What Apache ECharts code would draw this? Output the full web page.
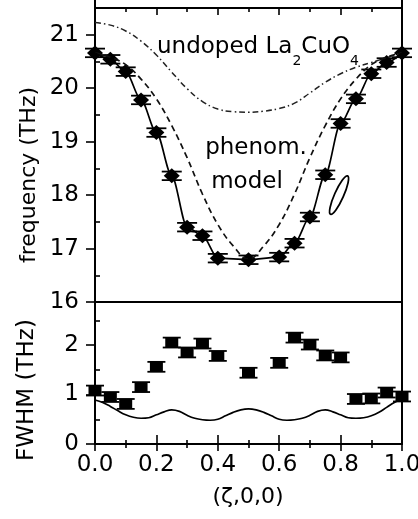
<!DOCTYPE html>
<html><head><meta charset="utf-8">
<script src="https://cdn.jsdelivr.net/npm/echarts@6/dist/echarts.min.js"></script>
<style>html,body{margin:0;padding:0;background:#fff}#c{width:418px;height:519px}</style>
</head><body><div id="c"></div>
<script>
// ---- data ----
const zeta = [0, 0.05, 0.1, 0.15, 0.2, 0.25, 0.3, 0.35, 0.4, 0.5, 0.6, 0.65, 0.7, 0.75, 0.8, 0.85, 0.9, 0.95, 1.0];
const freq = [20.66, 20.54, 20.31, 19.78, 19.17, 18.36, 17.40, 17.24, 16.82, 16.79, 16.84, 17.10, 17.59, 18.38, 19.34, 19.80, 20.27, 20.48, 20.66];
const freqErr = [0.08, 0.08, 0.08, 0.08, 0.08, 0.08, 0.08, 0.08, 0.08, 0.08, 0.08, 0.08, 0.08, 0.08, 0.08, 0.08, 0.08, 0.08, 0.08];
const fwhm = [1.08, 0.95, 0.81, 1.15, 1.56, 2.05, 1.85, 2.03, 1.78, 1.44, 1.64, 2.15, 2.01, 1.79, 1.75, 0.91, 0.92, 1.04, 0.96];
const fwhmErr = [0.1, 0.1, 0.1, 0.1, 0.1, 0.1, 0.1, 0.1, 0.1, 0.1, 0.1, 0.1, 0.1, 0.1, 0.1, 0.1, 0.1, 0.1, 0.1];

const curveZeta = [0, 0.05, 0.1, 0.15, 0.2, 0.25, 0.3, 0.35, 0.4, 0.45, 0.5, 0.55, 0.6, 0.65, 0.7, 0.75, 0.8, 0.85, 0.9, 0.95, 1.0];
const undoped = [21.23, 21.18, 21.07, 20.88, 20.62, 20.30, 19.99, 19.75, 19.61, 19.56, 19.55, 19.57, 19.62, 19.72, 19.91, 20.11, 20.27, 20.39, 20.48, 20.57, 20.66];
const phenom = [20.66, 20.58, 20.44, 20.17, 19.80, 19.30, 18.70, 18.02, 17.45, 17.05, 16.80, 17.05, 17.45, 18.02, 18.70, 19.30, 19.80, 20.17, 20.44, 20.58, 20.66];

const modelZeta = [0, 0.025, 0.05, 0.075, 0.1, 0.125, 0.15, 0.175, 0.2, 0.225, 0.25, 0.275, 0.3, 0.325, 0.35, 0.375, 0.4, 0.425, 0.45, 0.475, 0.5, 0.525, 0.55, 0.575, 0.6, 0.625, 0.65, 0.675, 0.7, 0.725, 0.75, 0.775, 0.8, 0.825, 0.85, 0.875, 0.9, 0.925, 0.95, 0.975, 1.0];
const fwhmModel = [0.89, 0.84, 0.76, 0.67, 0.59, 0.54, 0.52, 0.53, 0.59, 0.65, 0.69, 0.66, 0.58, 0.52, 0.49, 0.48, 0.50, 0.57, 0.64, 0.69, 0.71, 0.69, 0.64, 0.57, 0.50, 0.48, 0.49, 0.52, 0.58, 0.66, 0.69, 0.65, 0.59, 0.53, 0.52, 0.53, 0.57, 0.64, 0.74, 0.84, 0.91];

const freqTicks = [16, 17, 18, 19, 20, 21];
const freqMinorTicks = [16.5, 17.5, 18.5, 19.5, 20.5];
const fwhmTicks = [0, 1, 2];
const fwhmMinorTicks = [0.5, 1.5, 2.5];
const ellipseAt = [0.795, 18.0];

// ---- chart ----
const FONT = '"DejaVu Sans", "Liberation Sans", Arial, sans-serif';
const chart = echarts.init(document.getElementById('c'), null, {renderer: 'canvas'});

function errRender(capW) {
  return function (params, api) {
    const x = api.value(0);
    const lo = api.coord([x, api.value(1)]);
    const hi = api.coord([x, api.value(2)]);
    const st = {stroke: '#000', lineWidth: 1.8};
    const h = capW / 2;
    return {type: 'group', children: [
      {type: 'line', shape: {x1: lo[0], y1: lo[1], x2: hi[0], y2: hi[1]}, style: st},
      {type: 'line', shape: {x1: lo[0] - h, y1: lo[1], x2: lo[0] + h, y2: lo[1]}, style: st},
      {type: 'line', shape: {x1: hi[0] - h, y1: hi[1], x2: hi[0] + h, y2: hi[1]}, style: st}
    ]};
  };
}

const xBase = {type: 'value', min: 0, max: 1, interval: 0.2, splitLine: {show: false},
  axisLine: {show: false}};

const option = {
  animation: false,
  backgroundColor: '#fff',
  grid: [
    {left: 95, top: 8, width: 307, height: 294, show: true, borderColor: '#000', borderWidth: 2, backgroundColor: 'transparent', outerBoundsMode: 'none', containLabel: false},
    {left: 95, top: 302, width: 307, height: 142, show: true, borderColor: '#000', borderWidth: 2, backgroundColor: 'transparent', outerBoundsMode: 'none', containLabel: false}
  ],
  xAxis: [
    Object.assign({}, xBase, {gridIndex: 0, position: 'bottom', axisTick: {show: false}, axisLabel: {show: false}}),
    Object.assign({}, xBase, {gridIndex: 0, position: 'top', axisTick: {show: true, inside: true, length: 7, lineStyle: {color: '#000', width: 1.6}},
      minorTick: {show: true, splitNumber: 2, length: 4, lineStyle: {color: '#000', width: 1.6}}, axisLabel: {show: false}}),
    Object.assign({}, xBase, {gridIndex: 1, position: 'bottom', axisTick: {show: true, inside: true, length: 9, lineStyle: {color: '#000', width: 1.6}},
      minorTick: {show: true, splitNumber: 2, length: 4, lineStyle: {color: '#000', width: 1.6}},
      axisLabel: {show: true, margin: 10, color: '#000', fontSize: 23, fontFamily: FONT, formatter: v => v.toFixed(1)}}),
    Object.assign({}, xBase, {gridIndex: 1, position: 'top', axisTick: {show: true, inside: true, length: 7, lineStyle: {color: '#000', width: 1.6}},
      minorTick: {show: true, splitNumber: 2, length: 4, lineStyle: {color: '#000', width: 1.6}}, axisLabel: {show: false}})
  ],
  yAxis: [
    {type: 'value', gridIndex: 0, min: 16, max: 21.5, splitLine: {show: false},
      axisLine: {show: true, lineStyle: {color: '#000', width: 2}},
      axisTick: {show: true, inside: false, length: 9, customValues: freqTicks, lineStyle: {color: '#000', width: 1.6}},
      axisLabel: {show: true, customValues: freqTicks, margin: 16, color: '#000', fontSize: 23, fontFamily: FONT}},
    {type: 'value', gridIndex: 0, min: 16, max: 21.5, splitLine: {show: false}, axisLine: {show: false},
      axisTick: {show: true, inside: false, length: 5, customValues: freqMinorTicks, lineStyle: {color: '#000', width: 1.6}},
      axisLabel: {show: false}},
    {type: 'value', gridIndex: 1, min: 0, max: 2.87, splitLine: {show: false},
      axisLine: {show: true, lineStyle: {color: '#000', width: 2}},
      axisTick: {show: true, inside: false, length: 9, customValues: fwhmTicks, lineStyle: {color: '#000', width: 1.6}},
      axisLabel: {show: true, customValues: fwhmTicks, margin: 16, color: '#000', fontSize: 23, fontFamily: FONT}},
    {type: 'value', gridIndex: 1, min: 0, max: 2.87, splitLine: {show: false}, axisLine: {show: false},
      axisTick: {show: true, inside: false, length: 5, customValues: fwhmMinorTicks, lineStyle: {color: '#000', width: 1.6}},
      axisLabel: {show: false}}
  ],
  series: [
    {type: 'line', xAxisIndex: 0, yAxisIndex: 0, data: curveZeta.map((z, i) => [z, undoped[i]]), smooth: 0.4,
      symbol: 'none', lineStyle: {color: '#222', width: 1.5, type: [6, 3, 1.5, 3]}},
    {type: 'line', xAxisIndex: 0, yAxisIndex: 0, data: curveZeta.map((z, i) => [z, phenom[i]]), smooth: 0.4,
      symbol: 'none', lineStyle: {color: '#111', width: 1.7, type: [6, 4]}},
    {type: 'line', xAxisIndex: 0, yAxisIndex: 0, data: zeta.map((z, i) => [z, freq[i]]), smooth: 0.3, smoothMonotone: 'x',
      symbol: 'none', lineStyle: {color: '#000', width: 1.7}},
    {type: 'custom', xAxisIndex: 0, yAxisIndex: 0, renderItem: errRender(20), encode: {x: 0, y: [1, 2]},
      data: zeta.map((z, i) => [z, freq[i] - freqErr[i], freq[i] + freqErr[i]])},
    {type: 'scatter', xAxisIndex: 0, yAxisIndex: 0, data: zeta.map((z, i) => [z, freq[i]]), symbol: 'diamond',
      symbolSize: [16, 15], itemStyle: {color: '#000', opacity: 1}},
    {type: 'line', xAxisIndex: 2, yAxisIndex: 2, data: modelZeta.map((z, i) => [z, fwhmModel[i]]), smooth: 0.4,
      symbol: 'none', lineStyle: {color: '#000', width: 1.7}},
    {type: 'custom', xAxisIndex: 2, yAxisIndex: 2, renderItem: errRender(18), encode: {x: 0, y: [1, 2]},
      data: zeta.map((z, i) => [z, fwhm[i] - fwhmErr[i], fwhm[i] + fwhmErr[i]])},
    {type: 'scatter', xAxisIndex: 2, yAxisIndex: 2, data: zeta.map((z, i) => [z, fwhm[i]]), symbol: 'rect',
      symbolSize: [13, 10], itemStyle: {color: '#000', opacity: 1}}
  ]
};
chart.setOption(option);

const ep = chart.convertToPixel({xAxisIndex: 0, yAxisIndex: 0}, ellipseAt);
const txt = {fill: '#000', fontFamily: FONT};
chart.setOption({
  graphic: [
    {type: 'line', shape: {x1: 95, y1: 0, x2: 95, y2: 8}, style: {stroke: '#000', lineWidth: 2}},
    {type: 'line', shape: {x1: 402, y1: 0, x2: 402, y2: 8}, style: {stroke: '#000', lineWidth: 2}},
    {type: 'ellipse', x: ep[0], y: ep[1], rotation: -0.42, shape: {cx: 0, cy: 0, rx: 4.5, ry: 21},
      style: {fill: 'none', stroke: '#000', lineWidth: 1.8}},
    {type: 'text', x: 258, y: 36, style: Object.assign({}, txt, {
      text: '{m|undoped La}{s|2}{m|CuO}{s|4}', align: 'center', verticalAlign: 'top',
      rich: {m: {fontSize: 23, fontFamily: FONT, fill: '#000', verticalAlign: 'top', lineHeight: 32},
             s: {fontSize: 14, fontFamily: FONT, fill: '#000', verticalAlign: 'bottom'}}})},
    {type: 'text', x: 256, y: 148, style: Object.assign({}, txt, {text: 'phenom.', fontSize: 23, align: 'center', verticalAlign: 'middle'})},
    {type: 'text', x: 247, y: 182, style: Object.assign({}, txt, {text: 'model', fontSize: 23, align: 'center', verticalAlign: 'middle'})},
    {type: 'text', x: 29, y: 175, rotation: Math.PI / 2, style: Object.assign({}, txt, {text: 'frequency (THz)', fontSize: 22, align: 'center', verticalAlign: 'middle'})},
    {type: 'text', x: 27, y: 390, rotation: Math.PI / 2, style: Object.assign({}, txt, {text: 'FWHM (THz)', fontSize: 23, align: 'center', verticalAlign: 'middle'})},
    {type: 'text', x: 248, y: 497, style: Object.assign({}, txt, {text: '(ζ,0,0)', fontSize: 22, align: 'center', verticalAlign: 'middle'})}
  ]
});
</script></body></html>
